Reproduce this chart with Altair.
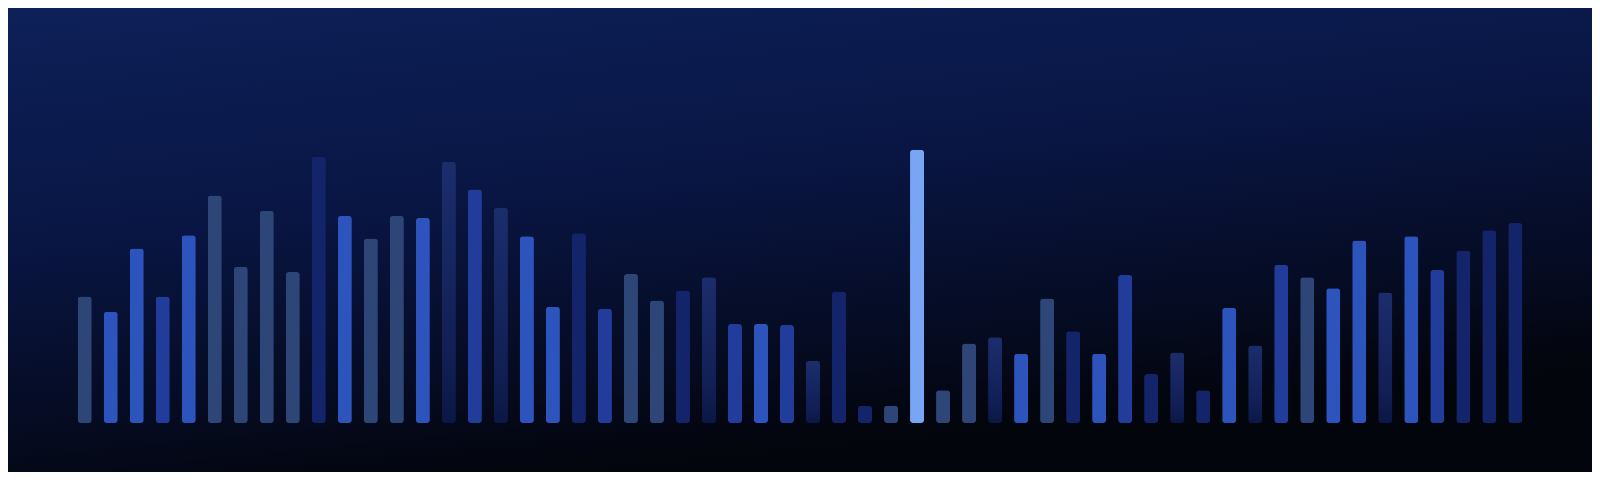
import altair as alt
import pandas as pd

# bar heights (arbitrary units)
values = [124, 109, 171, 124, 184, 223, 153, 208, 148, 261,
          203, 181, 203, 201, 256, 229, 211, 183, 114, 186,
          112, 146, 120, 130, 143, 97, 97, 96, 61, 129,
          17, 17, 268, 32, 78, 84, 68, 122, 90, 68,
          145, 48, 69, 32, 113, 76, 155, 143, 132, 179,
          128, 183, 150, 169, 189, 196]

# tone of each bar
tones = ["S", "B", "B", "M", "B", "S", "S", "S", "S", "N",
         "B", "S", "S", "B", "D", "M", "D", "B", "B", "N",
         "M", "S", "S", "N", "D", "M", "B", "M", "D", "N",
         "N", "S", "L", "S", "S", "D", "B", "S", "N", "B",
         "M", "N", "D", "N", "B", "D", "M", "S", "B", "B",
         "D", "B", "M", "N", "N", "N"]

tone_names = ["S", "B", "M", "N", "L"]
tone_colors = ["#2E4677", "#2D54BD", "#223C9C", "#14246A", "#78A6F4"]

bars_df = pd.DataFrame({
    "idx": list(range(1, len(values) + 1)),
    "value": values,
    "tone": tones,
})

W, H = 1584, 464

x_enc = alt.X("idx:O", axis=None,
              scale=alt.Scale(range=[63.7, 1520.3], paddingInner=0.46, paddingOuter=0.23))
y_enc = alt.Y("value:Q", axis=None,
              scale=alt.Scale(domain=[0, 400], range=[415, 7], zero=True, nice=False))

bg = alt.Chart(pd.DataFrame({"a": [0]})).mark_rect(
    color=alt.Gradient(
        gradient="linear",
        x1=0, y1=0, x2=0.35, y2=1,
        stops=[
            alt.GradientStop(offset=0, color="#0D2058"),
            alt.GradientStop(offset=0.45, color="#091644"),
            alt.GradientStop(offset=0.8, color="#050B22"),
            alt.GradientStop(offset=1, color="#03050C"),
        ],
    )
).encode(
    x=alt.value(0), x2=alt.value(W), y=alt.value(0), y2=alt.value(H)
)

bars = alt.Chart(bars_df).transform_filter(
    alt.datum.tone != "D"
).mark_bar(cornerRadius=3).encode(
    x=x_enc,
    y=y_enc,
    color=alt.Color("tone:N", legend=None,
                    scale=alt.Scale(domain=tone_names, range=tone_colors)),
)

dark_bars = alt.Chart(bars_df).transform_filter(
    alt.datum.tone == "D"
).mark_bar(
    cornerRadius=3,
    color=alt.Gradient(
        gradient="linear",
        x1=0, y1=0, x2=0, y2=1,
        stops=[
            alt.GradientStop(offset=0, color="#1C2D6C"),
            alt.GradientStop(offset=0.75, color="#111F55"),
            alt.GradientStop(offset=1, color="#0B1745"),
        ],
    ),
).encode(x=x_enc, y=y_enc)

chart = alt.layer(bg, bars, dark_bars).properties(
    width=W, height=H,
    autosize=alt.AutoSizeParams(type="none"),
    padding=0,
    background="#050A1A",
).configure_view(strokeWidth=0)

chart.save("out.html", embed_options={"renderer": "svg", "actions": False})
